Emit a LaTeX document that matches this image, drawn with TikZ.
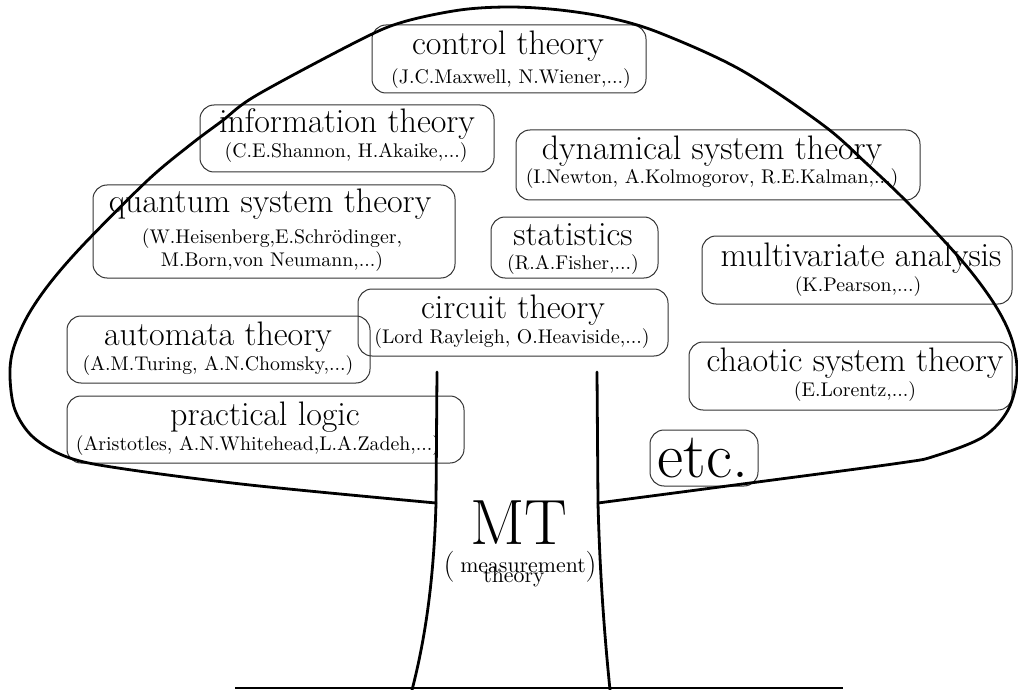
\documentclass[tikz,border=0pt]{standalone}
\begin{document}
\begin{tikzpicture}[x=0.5pt,y=-0.5pt,
  box/.style={draw=black!80, line width=0.5pt, rounded corners=7pt, inner sep=0pt},
  ttl/.style={anchor=base, inner sep=0pt, font=\fontsize{17}{20}\selectfont},
  sub/.style={anchor=base, inner sep=0pt, font=\fontsize{9.9}{11}\selectfont},
  outline/.style={line width=1.4pt, line join=round, line cap=round}]
\useasboundingbox (0,0) rectangle (1018,690);

% boxes
\node[box, minimum width=137pt, minimum height=34pt] (ctb) at (509,59) {};
\node[ttl] (ctt) at (508,55) {control theory};
\node[sub] (cts) at (511,84) {(J.C.Maxwell, N.Wiener,...)};

\node[box, minimum width=147pt, minimum height=33.5pt] (itb) at (347,138.5) {};
\node[ttl] (itt) at (347,133) {information theory};
\node[sub] (its) at (346,158) {(C.E.Shannon, H.Akaike,...)};

\node[box, minimum width=202pt, minimum height=35pt] (dsb) at (718,165) {};
\node[ttl] (dst) at (712,160) {dynamical system theory};
\node[sub] (dss) at (712,184) {(I.Newton, A.Kolmogorov, R.E.Kalman,...)};

\node[box, minimum width=181pt, minimum height=46.5pt] (qsb) at (274,231.5) {};
\node[ttl] (qst) at (270,213) {quantum system theory};
\node[sub] (qss1) at (272,243) {(W.Heisenberg,E.Schr\"odinger,};
\node[sub] (qss2) at (272,266) {M.Born,von Neumann,...)};

\node[box, minimum width=83.5pt, minimum height=30.5pt] (stb) at (574.5,247.5) {};
\node[ttl] (stt) at (573,245) {statistics};
\node[sub] (sts) at (573,270) {(R.A.Fisher,...)};

\node[box, minimum width=155pt, minimum height=34pt] (mvb) at (857,270) {};
\node[ttl] (mvt) at (861,266) {multivariate analysis};
\node[sub] (mvs) at (858,291) {(K.Pearson,...)};

\node[box, minimum width=155pt, minimum height=33.5pt] (cib) at (513,322.5) {};
\node[ttl] (cit) at (513,318) {circuit theory};
\node[sub] (cis) at (512,343) {(Lord Rayleigh, O.Heaviside,...)};

\node[box, minimum width=151.5pt, minimum height=33.5pt] (atb) at (218.5,349.5) {};
\node[ttl] (att) at (218,345) {automata theory};
\node[sub] (ats) at (218,370) {(A.M.Turing, A.N.Chomsky,...)};

\node[box, minimum width=161.5pt, minimum height=34pt] (csb) at (850.5,376) {};
\node[ttl] (cst) at (855,371) {chaotic system theory};
\node[sub] (css) at (855,396) {(E.Lorentz,...)};

\node[box, minimum width=198.5pt, minimum height=33.5pt] (plb) at (265.5,429.5) {};
\node[ttl] (plt) at (265,425) {practical logic};
\node[sub] (pls) at (258,450) {(Aristotles, A.N.Whitehead,L.A.Zadeh,...)};

\node[box, minimum width=54pt, minimum height=28pt] (etb) at (704,458) {};
\node[anchor=base, inner sep=0pt, font=\fontsize{32}{36}\selectfont] (ett) at (703,477) {etc.};

% trunk text
\node[anchor=base, inner sep=0pt, font=\fontsize{32}{36}\selectfont] (mt) at (519,544) {MT};
\node[inner sep=0pt, font=\fontsize{15.5}{18}\selectfont] (lp) at (449,567) {(};
\node[inner sep=0pt, font=\fontsize{15.5}{18}\selectfont] (rp) at (591,567) {)};
\node[anchor=base, inner sep=0pt, font=\fontsize{10.9}{12}\selectfont] (mea) at (523,572) {measurement};
\node[anchor=base, inner sep=0pt, font=\fontsize{10.9}{12}\selectfont] (the) at (514,582) {theory};

% cap outline
\draw[outline] plot[smooth, tension=0.55] coordinates {
 (598,503) (750,483) (900,463) (935,456) (983,437) (1008,410) (1017,375) (1012,340)
 (995,305) (963,262) (910,205) (866,163) (823,125) (741,70) (660,33) (610,18) (560,10) (510,7)
 (460,10) (403,22) (360,40) (257,95) (222,121) (190,145) (148,180) (85,243) (50,283) (27,317)
 (13,350) (10,377) (15,410) (33,437) (67,457) (118,468) (250,485) (436,503)};

% trunk
\draw[outline] (437,372) -- (436,503) .. controls (434,580) and (425,640) .. (412,690);
\draw[outline] (597,372) -- (598,503) .. controls (600,580) and (605,640) .. (610,690);
% ground
\draw[line width=1pt] (235,688) -- (843,688);
\end{tikzpicture}
\end{document}
